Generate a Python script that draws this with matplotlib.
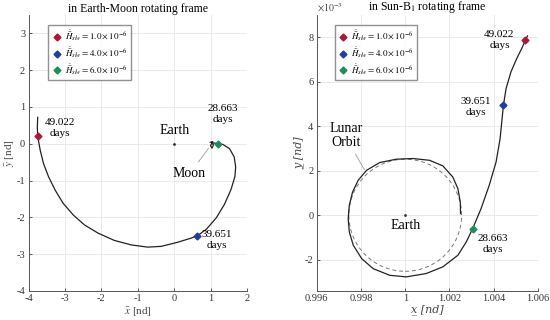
import matplotlib
matplotlib.use("Agg")
import matplotlib.pyplot as plt
from matplotlib.patches import Ellipse
import numpy as np

plt.rcParams['font.family'] = ['Liberation Serif', 'DejaVu Serif']
plt.rcParams['mathtext.fontset'] = 'stix'
plt.rcParams['axes.unicode_minus'] = False

# Earth-Moon rotating frame trajectory
em_x = [0.99, 1.06, 1.00, 1.04, 1.08, 1.03, 1.10, 1.20, 1.34, 1.52, 1.65, 1.69, 1.67, 1.56,
        1.38, 1.16, 0.89, 0.64, 0.45, 0.09, -0.36, -0.73, -1.18, -1.64, -2.09, -2.46,
        -2.77, -3.05, -3.27, -3.45, -3.59, -3.68, -3.75, -3.76, -3.75]
em_y = [0.04, 0.06, -0.05, -0.12, -0.03, 0.03, 0.02, 0.00, -0.02, -0.13, -0.36, -0.63, -0.89, -1.25,
        -1.65, -2.01, -2.32, -2.50, -2.57, -2.68, -2.79, -2.81, -2.75, -2.63, -2.43, -2.21,
        -1.94, -1.62, -1.26, -0.90, -0.54, -0.18, 0.20, 0.45, 0.72]

# Sun-B1 rotating frame trajectory (y in units of 1e-3)
sb_x = [1.00250, 1.00249, 1.00238, 1.00215, 1.00170, 1.00110, 1.00035, 0.99960, 0.99885,
        0.99825, 0.99787, 0.99762, 0.99747, 0.99742, 0.99747, 0.99765, 0.99803, 0.99855,
        0.99930, 1.00005, 1.00095, 1.00170, 1.00238, 1.00276, 1.00305, 1.00343, 1.00380,
        1.00411, 1.00429, 1.00438, 1.00444, 1.00456, 1.00478, 1.00504, 1.00528, 1.00543,
        1.00553]
sb_y = [0.07, 0.60, 1.20, 1.72, 2.22, 2.47, 2.55, 2.52, 2.37,
        2.02, 1.57, 1.05, 0.45, -0.15, -0.75, -1.35, -1.95, -2.40,
        -2.70, -2.77, -2.62, -2.32, -1.80, -1.20, -0.60, 0.30, 1.35,
        2.40, 3.44, 4.34, 4.94, 5.69, 6.44, 7.04, 7.52, 7.87,
        8.06]

# markers: slow-down rates, days, positions in both frames
rates = ['1.0', '4.0', '6.0']
days = ['49.022', '39.651', '28.663']
colors = ['#a8193a', '#1f3f9f', '#1f8c5c']
em_mx = [-3.75, 0.64, 1.20]
em_my = [0.20, -2.50, 0.00]
sb_mx = [1.00543, 1.00444, 1.00305]
sb_my = [7.87, 4.94, -0.60]

# label positions
em_lx = [-3.15, 1.18, 1.35]
em_ly = [0.43, -2.61, 0.8]
sb_lx = [1.00426, 1.0032, 1.00395]
sb_ly = [7.87, 4.87, -1.28]

moon_r_x = 0.00255
moon_r_y = 2.52

fig = plt.figure(figsize=(5.5, 3.2), dpi=100)
ax1 = fig.add_axes([0.052, 0.091, 0.397, 0.862])
ax2 = fig.add_axes([0.576, 0.091, 0.402, 0.862])


def estilo(ax):
    ax.grid(True, color='#e6e6e6', linewidth=0.6)
    ax.set_axisbelow(True)
    for s in ['top', 'right']:
        ax.spines[s].set_visible(False)
    for s in ['left', 'bottom']:
        ax.spines[s].set_color('#555555')
        ax.spines[s].set_linewidth(0.7)
    ax.tick_params(direction='in', length=2.5, width=0.6, labelsize=7.5,
                   colors='#444444', labelcolor='#333333', pad=2.5)


# left panel
ax1.plot(em_x, em_y, color='#222222', lw=0.9)
ax1.plot([0.67, 0.94], [-0.49, -0.13], color='#999999', lw=0.6)
ax1.plot([0], [0], marker='o', ms=1, color='#333333')
for i in range(3):
    ax1.plot(em_mx[i], em_my[i], 'D', ms=3.5, color=colors[i], mec=colors[i],
             label=r'$\dot{\bar{H}}_{slw}=%s\times10^{-6}$' % rates[i])
    ax1.text(em_lx[i], em_ly[i], days[i] + '\ndays', fontsize=8, ha='center',
             va='center', linespacing=1.3)
ax1.text(0.0, 0.35, 'Earth', fontsize=10, ha='center', va='center')
ax1.text(0.40, -0.8, 'Moon', fontsize=10, ha='center', va='center')
ax1.set_xlim(-4, 2)
ax1.set_ylim(-4, 3.5)
ax1.set_xticks(np.arange(-4, 3, 1))
ax1.set_yticks(np.arange(-4, 4, 1))
ax1.set_xlabel(r'$\bar{x}$ [nd]', fontsize=8, color='#444444', labelpad=1)
ax1.set_ylabel(r'$\bar{y}$ [nd]', fontsize=8, color='#444444', labelpad=0)
ax1.set_title('in Earth-Moon rotating frame', fontsize=8.5, pad=1.5)
estilo(ax1)
ax1.legend(loc='upper left', bbox_to_anchor=(0.07, 0.98), fontsize=6.5,
           frameon=True, fancybox=False, edgecolor='#777777', handlelength=1,
           handletextpad=0.4, borderpad=0.4, labelspacing=0.2)

# right panel
ax2.add_patch(Ellipse((1.0, 0.0), 2 * moon_r_x, 2 * moon_r_y, fill=False,
                      ls=(0, (4, 3)), color='#777777', lw=0.7))
ax2.plot(sb_x, sb_y, color='#222222', lw=0.9)
ax2.plot([0.99775, 0.99815], [2.75, 2.05], color='#999999', lw=0.6)
ax2.plot([1.0], [0], marker='o', ms=1, color='#333333')
for i in range(3):
    ax2.plot(sb_mx[i], sb_my[i], 'D', ms=3.5, color=colors[i], mec=colors[i],
             label=r'$\dot{\bar{H}}_{slw}=%s\times10^{-6}$' % rates[i])
    ax2.text(sb_lx[i], sb_ly[i], days[i] + '\ndays', fontsize=8, ha='center',
             va='center', linespacing=1.3)
ax2.text(1.0, -0.45, 'Earth', fontsize=10, ha='center', va='center')
ax2.text(0.99732, 3.6, 'Lunar\nOrbit', fontsize=10, ha='center', va='center',
         linespacing=1.1)
ax2.set_xlim(0.996, 1.006)
ax2.set_ylim(-3.4, 9.0)
ax2.set_xticks([0.996, 0.998, 1.0, 1.002, 1.004, 1.006])
ax2.set_xticklabels(['0.996', '0.998', '1', '1.002', '1.004', '1.006'])
ax2.set_yticks([-2, 0, 2, 4, 6, 8])
ax2.text(0.0, 1.003, r'$\times10^{-3}$', transform=ax2.transAxes, fontsize=7,
         color='#444444', va='bottom', ha='left')
ax2.set_xlabel('x\u0332 [nd]', fontsize=8, color='#444444', labelpad=1,
               family=['DejaVu Serif'], style='italic')
ax2.set_ylabel('y\u0332 [nd]', fontsize=8, color='#444444', labelpad=0,
               family=['DejaVu Serif'], style='italic')
ax2.set_title('in Sun-B$_1$ rotating frame', fontsize=8.5, pad=1.5)
estilo(ax2)
ax2.legend(loc='upper left', bbox_to_anchor=(0.06, 0.98), fontsize=6.5,
           frameon=True, fancybox=False, edgecolor='#777777', handlelength=1,
           handletextpad=0.4, borderpad=0.4, labelspacing=0.2)

fig.savefig('out.png', dpi=100)
